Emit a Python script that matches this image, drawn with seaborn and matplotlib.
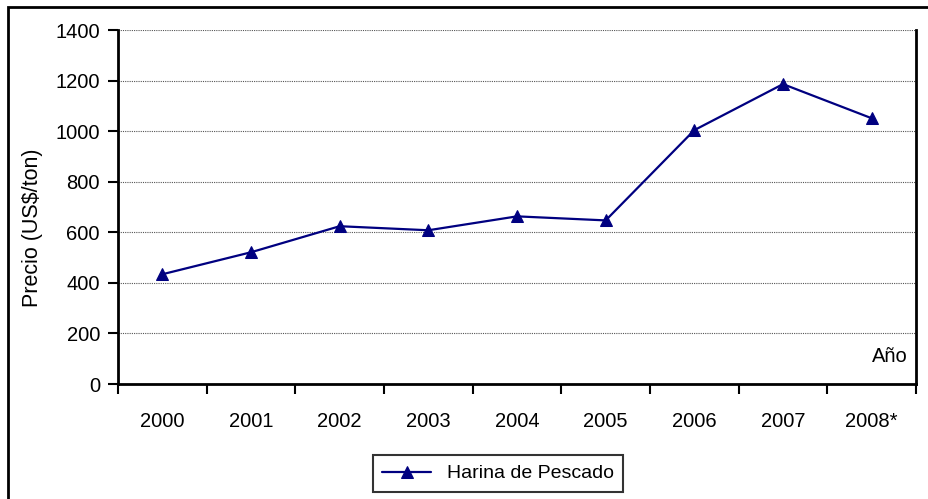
import pandas as pd
import matplotlib.pyplot as plt
import seaborn as sns
from matplotlib.patches import Rectangle
from matplotlib.ticker import FixedLocator

# Data
years = ["2000", "2001", "2002", "2003", "2004", "2005", "2006", "2007", "2008*"]
precio = [434, 521, 624, 608, 663, 647, 1004, 1186, 1051]
yticks = [0, 200, 400, 600, 800, 1000, 1200, 1400]

df = pd.DataFrame({"anio": range(len(years)), "precio": precio})

sns.set_style("white")
plt.rcParams["font.family"] = ["Liberation Sans", "DejaVu Sans"]
plt.rcParams["text.color"] = "black"
plt.rcParams["xtick.color"] = "black"
plt.rcParams["ytick.color"] = "black"
fs = 14.5

fig = plt.figure(figsize=(9.29, 4.99), dpi=100)
ax = fig.add_axes([118 / 929, 1 - 384 / 499, (916 - 118) / 929, (384 - 30) / 499])

sns.lineplot(data=df, x="anio", y="precio", ax=ax, color="#000080", linewidth=1.6,
             marker="^", markersize=8, markeredgecolor="#000080",
             label="Harina de Pescado", legend=False)

ax.set_xlim(-0.5, len(years) - 0.5)
ax.set_ylim(0, 1400)
ax.set_yticks(yticks)
ax.set_xticks(range(len(years)))
ax.set_xticklabels(years, fontsize=fs)
ax.xaxis.set_minor_locator(FixedLocator([i - 0.5 for i in range(len(years) + 1)]))
ax.tick_params(axis="x", which="major", length=0, pad=20)
ax.tick_params(axis="x", which="minor", length=7, width=1.5, color="black", direction="out", bottom=True)
ax.tick_params(axis="y", length=7, width=1.5, color="black", direction="out", left=True, labelsize=fs, pad=6)

ax.yaxis.grid(True, linestyle=(0, (1, 1)), color="#555555", linewidth=0.8)
ax.set_axisbelow(True)

for side in ["left", "bottom", "right"]:
    ax.spines[side].set_visible(True)
    ax.spines[side].set_color("black")
    ax.spines[side].set_linewidth(2)
ax.spines["top"].set_visible(False)

ax.set_xlabel("")
ax.set_ylabel("Precio (US$/ton)", fontsize=15.5, color="black")
ax.yaxis.set_label_coords(-0.094, 0.44)
ax.text(0.99, 0.05, "Año", transform=ax.transAxes, ha="right", va="bottom", fontsize=fs)

# legend box at the bottom, cut off by the figure edge
handles, labels = ax.get_legend_handles_labels()
leg = fig.legend(handles, labels, loc="upper center", bbox_to_anchor=(498 / 929, 1 - 455 / 499),
                 fontsize=14, frameon=True, fancybox=False, edgecolor="black",
                 handlelength=2.5, borderpad=0.5, borderaxespad=0)
leg.get_frame().set_linewidth(1.5)

# outer chart border
fig.patches.append(Rectangle((8 / 929, -0.1), 1.2, 1 - 7 / 499 + 0.1, transform=fig.transFigure,
                             fill=False, edgecolor="black", linewidth=2))

fig.savefig("out.png", dpi=100)
